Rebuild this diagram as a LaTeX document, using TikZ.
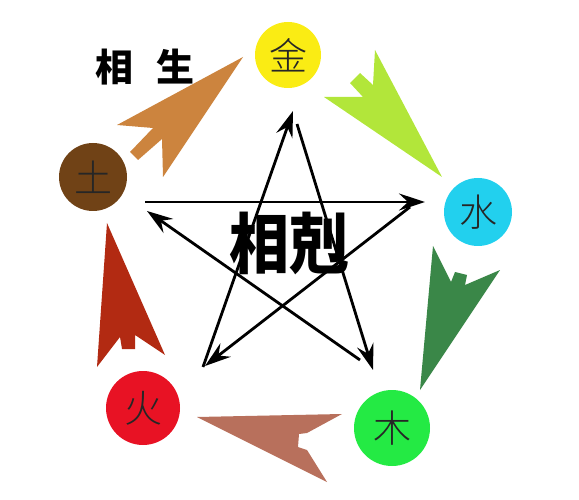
\documentclass[tikz,border=0pt]{standalone}
\usepackage{fontspec}
\newfontfamily\cjk{Noto Sans CJK SC}
\newfontfamily\cjkthin{Noto Sans CJK SC}[UprightFont={* Light}]
\usetikzlibrary{arrows.meta}

\definecolor{jinC}{RGB}{250,236,20}
\definecolor{shuiC}{RGB}{34,208,238}
\definecolor{muC}{RGB}{36,234,68}
\definecolor{huoC}{RGB}{232,18,36}
\definecolor{tuC}{RGB}{112,66,22}
\definecolor{aTu}{RGB}{204,132,62}
\definecolor{aJin}{RGB}{178,230,58}
\definecolor{aShui}{RGB}{58,135,72}
\definecolor{aMu}{RGB}{184,112,92}
\definecolor{aHuo}{RGB}{178,42,18}

\tikzset{
  wx/.style={circle,inner sep=0pt,text=black!85,font=\cjkthin\fontsize{38}{38}\selectfont},
  ke/.style={line width=2.8pt,-{Stealth[length=26pt,width=17pt,inset=9pt]}}
}

\begin{document}
\begin{tikzpicture}[x=1pt,y=-1pt]
    \useasboundingbox (0,0) rectangle (579,500);

		\node [wx,fill=jinC,minimum size=66pt] (jin) at (288,55) {金};
		\node [wx,fill=shuiC,minimum size=68pt] (shui) at (478,212) {水};
		\node [wx,fill=muC,minimum size=76pt] (mu) at (392,428) {木};
		\node [wx,fill=huoC,minimum size=74pt] (huo) at (143,408) {火};
		\node [wx,fill=tuC,minimum size=68pt] (tu) at (93,177) {土};

		\node [font=\cjk\bfseries\fontsize{38}{38}\selectfont] (sheng) at (145,67) {相\hspace{24pt}生};

		% 相生
		\fill [aTu] (243,57) -- (117,125) -- (153,128) -- (130,152) -- (138,160)
		  -- (162,139) -- (163,177) -- cycle;
		\fill [aJin] (442,177) -- (375,50) -- (373,85) -- (360,73) -- (350,83)
		  -- (363,97) -- (324,97) -- cycle;
		\fill [aShui] (420,390) -- (433,246) -- (451,282) -- (455,272) -- (467,275)
		  -- (465,285) -- (500,270) -- cycle;
		\fill [aMu] (197,417) -- (342,414) -- (307,433) -- (299,434) -- (298,447)
		  -- (307,450) -- (327,482) -- cycle;
		\fill [aHuo] (107,223) -- (165,355) -- (135,335) -- (135,349) -- (122,349)
		  -- (120,337) -- (97,367) -- cycle;

		% 相剋
		\coordinate (t) at (293,111);
		\coordinate (t') at (297,124);
		\coordinate (l) at (145,202);
		\coordinate (l') at (147,211);
		\coordinate (r) at (425,202);
		\coordinate (r') at (410,207);
		\coordinate (bl) at (203,367);
		\coordinate (bl') at (205,366);
		\coordinate (br) at (373,370);
		\coordinate (br') at (360,360);

		\draw [ke] (bl) -- (t);
		\draw [ke] (t') -- (br);
		\draw [ke] (l) -- (r);
		\draw [ke] (r') -- (bl');
		\draw [ke] (br') -- (l');

		\node [font=\cjk\bfseries\fontsize{60}{60}\selectfont,yscale=1.1] (ke) at (289,243) {相剋};
\end{tikzpicture}
\end{document}
